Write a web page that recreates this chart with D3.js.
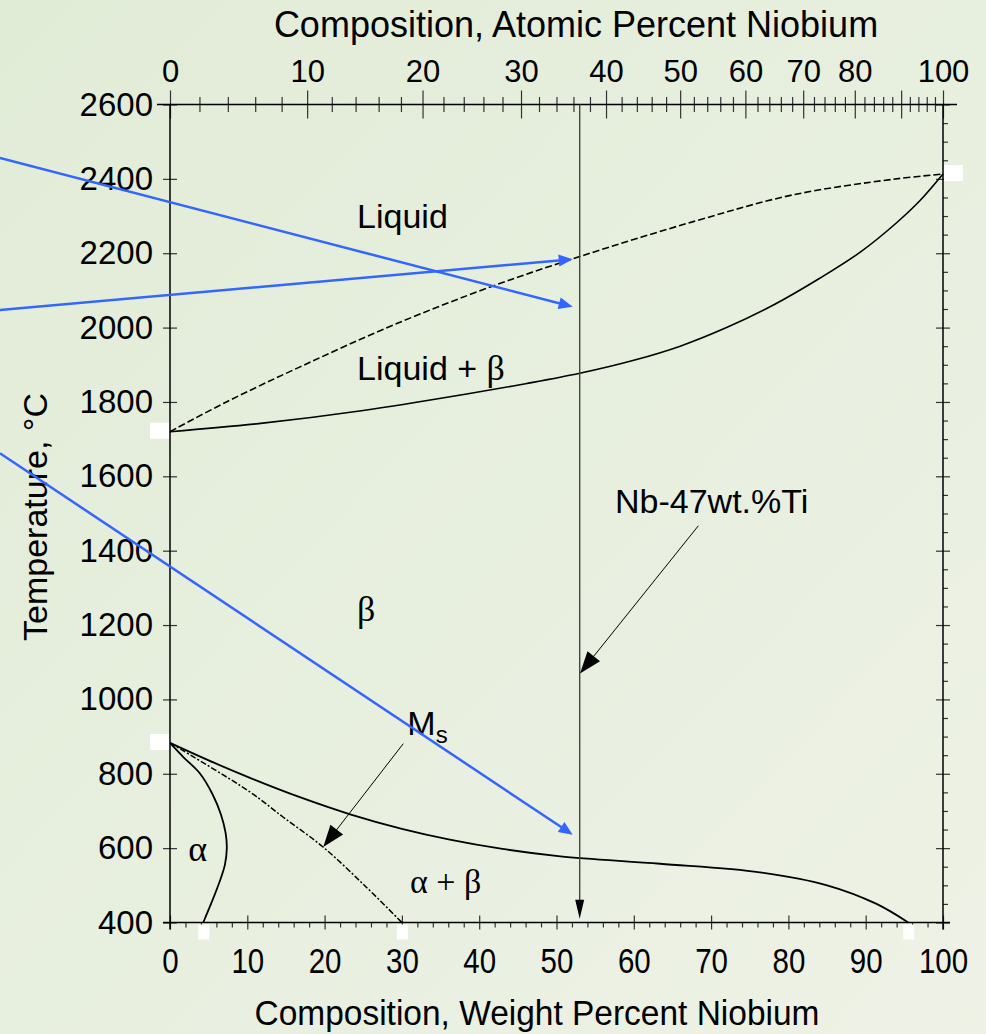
<!DOCTYPE html>
<html>
<head>
<meta charset="utf-8">
<script src="https://cdn.jsdelivr.net/npm/d3@7"></script>
<style>
  html, body { margin: 0; padding: 0; }
  body { width: 986px; height: 1034px; overflow: hidden; }
  svg { display: block; }
  text { font-family: Arial, "Liberation Sans", sans-serif; fill: #000; }
  .greek { font-family: "Times New Roman", "Liberation Serif", serif; }
</style>
</head>
<body>
<svg id="chart"></svg>
<script>
// Ti-Nb phase boundaries, [wt.% Nb, temperature in C]
var liquidus = [[0, 1720], [7.3, 1800], [17.3, 1899], [28.9, 2007], [41.8, 2112], [53, 2191],
                [67.7, 2285], [80.6, 2357], [93.6, 2399], [100, 2413]];
var solidus = [[0, 1720], [12, 1743], [25, 1777], [38, 1820], [46, 1849], [53, 1877], [60, 1912],
               [66, 1950], [72, 2000], [78, 2060], [84, 2132], [89.3, 2203], [94, 2282],
               [97, 2341], [100, 2413]];
var betaTransus = [[0, 883], [5, 836], [10.35, 789], [16.8, 737], [23.3, 691], [30, 652],
                   [36.2, 623], [43, 598], [50.5, 578], [63.4, 558], [76.3, 535], [85, 500],
                   [91.4, 450], [95.5, 400]];
var msLine = [[0, 883], [10.35, 751], [14.66, 683], [19.8, 603], [25.4, 495], [30, 400]];
var alphaBoundary = [[0, 883], [1.72, 845], [3.9, 800], [5.5, 745], [6.6, 690], [7.2, 640],
                     [7.35, 600], [7.1, 555], [6.47, 513], [5.5, 460], [4.3, 400]];

// axes
var tempMajor = [400, 600, 800, 1000, 1200, 1400, 1600, 1800, 2000, 2200, 2400, 2600];
var wtMajor = [0, 10, 20, 30, 40, 50, 60, 70, 80, 90, 100];
var atMajor = [0, 10, 20, 30, 40, 50, 60, 70, 80, 90, 100];
var atLabelled = [0, 10, 20, 30, 40, 50, 60, 70, 80, 100];

// annotations
var alloyWt = 53;   // Nb-47wt.%Ti
var keyPoints = [[0, 1720, 'left'], [0, 883, 'left'], [100, 2413, 'right'],
                 [4.3, 400, 'bottom'], [30, 400, 'bottom'], [95.5, 400, 'bottom']];
var blueArrows = [[[-22, 2456], [52.1, 2056]],
                  [[-22, 2047], [52.1, 2184]],
                  [[-22, 1662], [52.1, 636]]];
var alloyArrow = [[68.35, 1467], [53.04, 1070]];
var msArrow = [[30.18, 881], [19.83, 603]];

var ATW_TI = 47.867, ATW_NB = 92.906;
function atToWt(a) {
    return 100 * a * ATW_NB / (a * ATW_NB + (100 - a) * ATW_TI);
}

var W = 986, H = 1034;
var x = d3.scaleLinear().domain([0, 100]).range([170, 943]);
var y = d3.scaleLinear().domain([400, 2600]).range([922.5, 104.5]);

var svg = d3.select('#chart').attr('width', W).attr('height', H);

// background
var grad = svg.append('defs').append('linearGradient')
    .attr('id', 'bg').attr('x1', 0).attr('y1', 0).attr('x2', 1).attr('y2', 1);
grad.append('stop').attr('offset', '0%').attr('stop-color', '#e1ecd7');
grad.append('stop').attr('offset', '100%').attr('stop-color', '#eef2e6');
svg.append('rect').attr('width', W).attr('height', H).attr('fill', 'url(#bg)');

// helpers
function arrowHead(x1, y1, x2, y2, len, hw) {
    var dx = x2 - x1, dy = y2 - y1, d = Math.sqrt(dx * dx + dy * dy);
    var ux = dx / d, uy = dy / d;
    var bx = x2 - ux * len, by = y2 - uy * len;
    return 'M' + x2 + ',' + y2 +
        'L' + (bx - uy * hw) + ',' + (by + ux * hw) +
        'L' + (bx + uy * hw) + ',' + (by - ux * hw) + 'Z';
}
function drawArrow(g, p0, p1, color, width, len, hw) {
    var x1 = x(p0[0]), y1 = y(p0[1]), x2 = x(p1[0]), y2 = y(p1[1]);
    var d = Math.sqrt((x2 - x1) * (x2 - x1) + (y2 - y1) * (y2 - y1));
    var ex = x2 - (x2 - x1) / d * len * 0.8, ey = y2 - (y2 - y1) / d * len * 0.8;
    g.append('line')
        .attr('x1', x1).attr('y1', y1).attr('x2', ex).attr('y2', ey)
        .attr('stroke', color).attr('stroke-width', width);
    g.append('path').attr('d', arrowHead(x1, y1, x2, y2, len, hw)).attr('fill', color);
}

// axes
var x0 = x(0), x1 = x(100), yTop = y(2600), yBot = y(400);

var leftAxis = svg.append('g').attr('transform', 'translate(' + x0 + ',0)');
leftAxis.call(d3.axisLeft(y).tickValues(d3.range(400, 2601, 50).filter(function(t) { return t % 200; }))
    .tickSize(5).tickFormat(''));
leftAxis.call(d3.axisLeft(y).tickValues(tempMajor).tickSize(7).tickPadding(10).tickFormat(d3.format('d')));
leftAxis.selectAll('.tick line').filter(function(d) { return d % 200 === 0; }).attr('x1', 7);

var rightAxis = svg.append('g').attr('transform', 'translate(' + x1 + ',0)');
rightAxis.call(d3.axisRight(y).tickValues(d3.range(400, 2601, 50).filter(function(t) { return t % 200; }))
    .tickSize(5).tickFormat(''));
var rightMajor = svg.append('g').attr('transform', 'translate(' + x1 + ',0)');
rightMajor.call(d3.axisRight(y).tickValues(tempMajor).tickSize(7).tickFormat(''));
rightMajor.selectAll('.tick line').attr('x1', -7);

var bottomMinor = svg.append('g').attr('transform', 'translate(0,' + yBot + ')');
bottomMinor.call(d3.axisBottom(x).tickValues(d3.range(0, 101, 2).filter(function(t) { return t % 10; }))
    .tickSize(5).tickFormat(''));
var bottomAxis = svg.append('g').attr('transform', 'translate(0,' + yBot + ')');
bottomAxis.call(d3.axisBottom(x).tickValues(wtMajor).tickSize(7).tickFormat(d3.format('d')));
bottomAxis.selectAll('.tick line').attr('y1', -7);

var topMinor = svg.append('g').attr('transform', 'translate(0,' + yTop + ')');
topMinor.call(d3.axisTop(x).tickValues(d3.range(0, 101, 2).filter(function(t) { return t % 10; }).map(atToWt))
    .tickSize(7.5).tickFormat(''));
topMinor.selectAll('.tick line').attr('y1', 7.5);
var topAxis = svg.append('g').attr('transform', 'translate(0,' + yTop + ')');
topAxis.call(d3.axisTop(x).tickValues(atMajor.map(atToWt)).tickSize(14).tickPadding(8.5)
    .tickFormat(function(d, i) { return atLabelled.indexOf(atMajor[i]) >= 0 ? atMajor[i] : ''; }));
topAxis.selectAll('.tick line').attr('y1', 14);

svg.selectAll('.domain').remove();
svg.selectAll('.tick line').attr('stroke', '#333').attr('stroke-width', 1.2);
svg.selectAll('.tick text').attr('fill', '#000');
leftAxis.attr('font-size', 33).attr('font-family', 'Arial, "Liberation Sans", sans-serif');
topAxis.attr('font-size', 31).attr('font-family', 'Arial, "Liberation Sans", sans-serif');
bottomAxis.attr('font-size', 36).attr('font-family', 'Arial, "Liberation Sans", sans-serif');
bottomAxis.selectAll('.tick text').attr('y', 51).attr('dy', null).attr('transform', 'scale(0.82,1)');

// axis lines
var frame = svg.append('g').attr('stroke', '#000').attr('stroke-width', 1.5);
frame.append('line').attr('x1', x0 - 13).attr('x2', x1 + 14).attr('y1', yTop).attr('y2', yTop);
frame.append('line').attr('x1', x0 - 7).attr('x2', x1 + 7).attr('y1', yBot).attr('y2', yBot);
frame.append('line').attr('x1', x0).attr('x2', x0).attr('y1', yTop).attr('y2', yBot + 7);
frame.append('line').attr('x1', x1).attr('x2', x1).attr('y1', yTop).attr('y2', yBot + 7);

// axis titles
svg.append('text').attr('x', 576).attr('y', 37).attr('text-anchor', 'middle')
    .attr('font-size', 36).text('Composition, Atomic Percent Niobium');
svg.append('text').attr('x', 537).attr('y', 1025).attr('text-anchor', 'middle')
    .attr('font-size', 36).attr('transform', 'translate(537,0) scale(0.93,1) translate(-537,0)')
    .text('Composition, Weight Percent Niobium');
svg.append('text').attr('transform', 'translate(47,517) rotate(-90)').attr('text-anchor', 'middle')
    .attr('font-size', 34).text('Temperature, \u00B0C');

// phase boundaries
var line = d3.line().x(function(d) { return x(d[0]); }).y(function(d) { return y(d[1]); })
    .curve(d3.curveCatmullRom.alpha(0.5));
var curves = svg.append('g').attr('fill', 'none').attr('stroke', '#000');
curves.append('path').datum(liquidus).attr('d', line).attr('stroke-width', 1.6).attr('stroke-dasharray', '7,3');
curves.append('path').datum(solidus).attr('d', line).attr('stroke-width', 1.6);
curves.append('path').datum(betaTransus).attr('d', line).attr('stroke-width', 1.8);
curves.append('path').datum(msLine).attr('d', line).attr('stroke-width', 1.5).attr('stroke-dasharray', '6,2,2,2');
curves.append('path').datum(alphaBoundary).attr('d', line).attr('stroke-width', 1.8);

// alloy composition line
var ann = svg.append('g');
ann.append('line').attr('x1', x(alloyWt)).attr('x2', x(alloyWt)).attr('y1', yTop).attr('y2', y(410) - 15)
    .attr('stroke', '#444').attr('stroke-width', 1.4);
ann.append('path').attr('d', arrowHead(x(alloyWt), yTop, x(alloyWt), y(410), 19, 4.5)).attr('fill', '#000');
drawArrow(ann, alloyArrow[0], alloyArrow[1], '#000', 1, 22, 8);
drawArrow(ann, msArrow[0], msArrow[1], '#000', 1, 22, 8);

// key points
keyPoints.forEach(function(k) {
    var px = x(k[0]), py = y(k[1]);
    var r = k[2] === 'left' ? [px - 20, py - 9, 19, 16]
          : k[2] === 'right' ? [px + 1, py - 9, 19, 16]
          : [px - 5, py + 2, 11, 15];
    svg.append('rect').attr('x', r[0]).attr('y', r[1]).attr('width', r[2]).attr('height', r[3]).attr('fill', '#fff');
});

// labels
function label(wt, t, size) {
    return svg.append('text').attr('x', x(wt)).attr('y', y(t)).attr('font-size', size);
}
label(24.2, 2267, 34).text('Liquid');
var lb = label(24.2, 1858, 34);
lb.append('tspan').text('Liquid + ');
lb.append('tspan').attr('class', 'greek').attr('font-size', 36).text('\u03B2');
label(24.2, 1212, 36).attr('class', 'greek').text('\u03B2');
label(2.37, 566, 36).attr('class', 'greek').text('\u03B1');
label(31.05, 478, 34).attr('class', 'greek').text('\u03B1 + \u03B2');
label(57.57, 1502, 34).text('Nb-47wt.%Ti');
var ms = label(30.7, 903, 34);
ms.append('tspan').text('M');
ms.append('tspan').attr('font-size', 24).attr('dy', 8).text('s');

// blue arrows
var blue = svg.append('g');
blueArrows.forEach(function(a) { drawArrow(blue, a[0], a[1], '#3366ff', 2.5, 14, 6); });
</script>
</body>
</html>
